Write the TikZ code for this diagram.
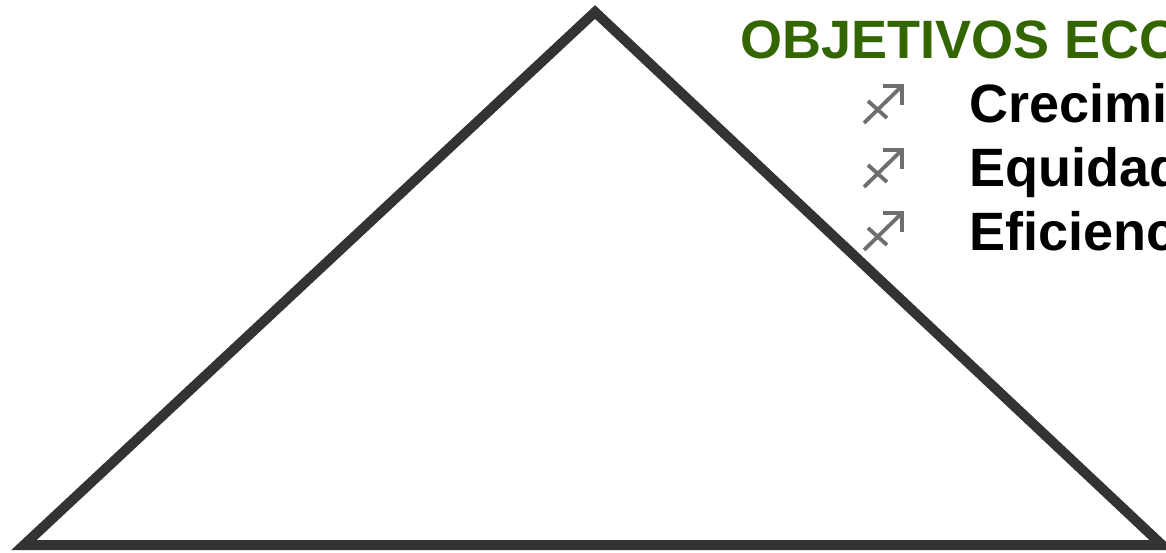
\documentclass[tikz,border=0pt]{standalone}
\usepackage{fontspec}
\setmainfont{Liberation Sans}
\definecolor{edge}{HTML}{333333}
\definecolor{titlegreen}{HTML}{336600}
\definecolor{bulgray}{HTML}{6E6E6E}
\begin{document}
\begin{tikzpicture}[x=1pt,y=-1pt,
  tri/.style={draw=edge,line width=10pt,line join=miter},
  titletext/.style={anchor=base west,inner sep=0pt,text=titlegreen,font=\fontsize{54}{54}\selectfont\bfseries},
  itemtext/.style={anchor=base west,inner sep=0pt,text=black,font=\fontsize{54}{54}\selectfont\bfseries},
  bul/.style={draw=bulgray,line width=3.8pt}]
\useasboundingbox (0,0) rectangle (1166,553);
\clip (0,0) rectangle (1166,553);
\coordinate (apex) at (595,12);
\coordinate (bl) at (24,545);
\coordinate (br) at (1162,545);
\draw[tri] (bl) -- (apex) -- (br) -- cycle;
\node[titletext] (title) at (740,59) {OBJETIVOS ECONÓMICOS};
\node[itemtext] (i1) at (969,123) {Crecimiento};
\node[itemtext] (i2) at (969,187) {Equidad};
\node[itemtext] (i3) at (969,251) {Eficiencia};
\foreach \b in {123,187,250}{
  \draw[bul] (864,\b) -- (902,\b-37);
  \draw[bul] (883,\b-37) -- (902,\b-37) -- (902,\b-18);
  \draw[bul] (868,\b-22) -- (887,\b-5);
}
\end{tikzpicture}
\end{document}
